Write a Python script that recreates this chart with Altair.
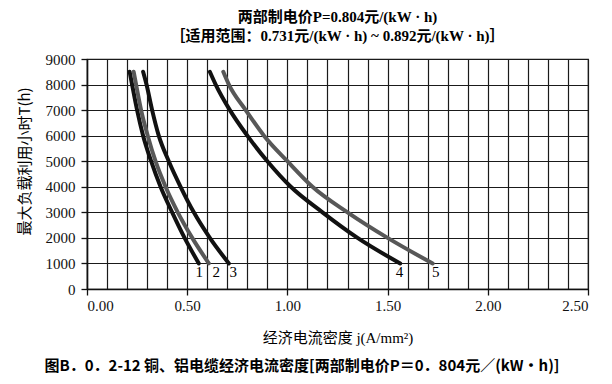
import altair as alt
import pandas as pd

# ---- data ----
T_hours = [8500, 8000, 7000, 6000, 5000, 4000, 3000, 2000, 1000]
j_curve1 = [0.213, 0.225, 0.250, 0.280, 0.320, 0.367, 0.425, 0.487, 0.558]
j_curve2 = [0.233, 0.245, 0.270, 0.303, 0.342, 0.392, 0.453, 0.525, 0.608]
j_curve3 = [0.280, 0.297, 0.325, 0.358, 0.408, 0.467, 0.533, 0.613, 0.708]
j_curve4 = [0.613, 0.642, 0.713, 0.800, 0.900, 1.017, 1.175, 1.350, 1.563]
j_curve5 = [0.680, 0.708, 0.792, 0.883, 1.000, 1.125, 1.300, 1.500, 1.725]

curve_names = ["1", "2", "3", "4", "5"]
curve_colors = ["#111111", "#585858", "#111111", "#111111", "#585858"]
label_j = [0.560, 0.645, 0.730, 1.560, 1.740]
label_T = [660, 660, 660, 660, 660]

x_grid = [round(i * 0.1, 1) for i in range(26)]
y_ticks = list(range(0, 9001, 1000))

title_lines = ["两部制电价P=0.804元/(kW · h)",
               "［适用范围：0.731元/(kW · h) ~ 0.892元/(kW · h)］"]
x_title = "经济电流密度 j(A/mm²)"
y_title = "最大负载利用小时T(h)"
caption = "图B．0．2-12 铜、铝电缆经济电流密度[两部制电价P＝0．804元／(kW•h)]"

rows = []
for name, js in zip(curve_names, [j_curve1, j_curve2, j_curve3, j_curve4, j_curve5]):
    for T, j in zip(T_hours, js):
        rows.append({"curve": name, "j": j, "T": T})
df = pd.DataFrame(rows)
lab = pd.DataFrame({"curve": curve_names, "j": label_j, "T": label_T})

SERIF = "Liberation Serif, Noto Sans CJK SC"
SANS = "Noto Sans CJK SC"

is_major = "abs(datum.value*2 - round(datum.value*2)) < 0.001"

xscale = alt.Scale(domain=[0, 2.5], nice=False, zero=False)
yscale = alt.Scale(domain=[0, 9000], nice=False)

x_axis = alt.Axis(
    values=x_grid,
    labelExpr=f"{is_major} ? format(datum.value, '.2f') : ''",
    tickOpacity={"condition": {"test": is_major, "value": 1}, "value": 0},
    labelOverlap=False,
    grid=True, gridColor="#1a1a1a", gridWidth=1.2,
    domainColor="#111", domainWidth=1.5,
    tickColor="#111", tickSize=6, tickWidth=1.3,
    labelFont=SERIF, labelFontSize=15, labelColor="#111", labelPadding=3,
    title=x_title, titleFont=SERIF, titleFontSize=15, titleFontWeight="normal",
    titleColor="black", titlePadding=17,
)
y_axis = alt.Axis(
    values=y_ticks, format="d", labelOverlap=False,
    grid=True, gridColor="#1a1a1a", gridWidth=1.2,
    domainColor="#111", domainWidth=1.5,
    tickColor="#111", tickSize=6, tickWidth=1.3,
    labelFont=SERIF, labelFontSize=15, labelColor="#111", labelPadding=6,
    title=y_title, titleFont=SANS, titleFontSize=15, titleFontWeight="normal",
    titleColor="black", titleX=-63, titleY=102, titleBaseline="middle", titleAngle=-90,
    titleAlign="center",
)

color = alt.Color("curve:N", scale=alt.Scale(domain=curve_names, range=curve_colors), legend=None)

lines = alt.Chart(df).mark_line(strokeWidth=4, interpolate="monotone", strokeCap="round").encode(
    x=alt.X("j:Q", scale=xscale, axis=x_axis),
    y=alt.Y("T:Q", scale=yscale, axis=y_axis),
    color=color,
    detail="curve:N",
)

labels = alt.Chart(lab).mark_text(font=SERIF, fontSize=15, color="black", baseline="middle", align="center").encode(
    x=alt.X("j:Q", scale=xscale, axis=x_axis),
    y=alt.Y("T:Q", scale=yscale, axis=y_axis),
    text="curve:N",
)

cap = alt.Chart(pd.DataFrame({"t": [caption]})).mark_text(
    font=SANS, fontSize=15, fontWeight="bold", color="black", align="center", baseline="middle"
).encode(x=alt.value(215), y=alt.value(307), text="t:N")

chart = alt.layer(lines, labels, cap).properties(
    width=501, height=230,
    autosize=alt.AutoSizeParams(type="none"),
    padding={"left": 79, "top": 51, "right": 16, "bottom": 86},
    title=alt.TitleParams(text=title_lines, font=SERIF, fontSize=15, fontWeight="bold",
                          color="black", anchor="middle", offset=8, lineHeight=19),
).configure_view(stroke="#1a1a1a", strokeWidth=1.2)

chart.save("out.html", embed_options={"renderer": "svg", "actions": False})
